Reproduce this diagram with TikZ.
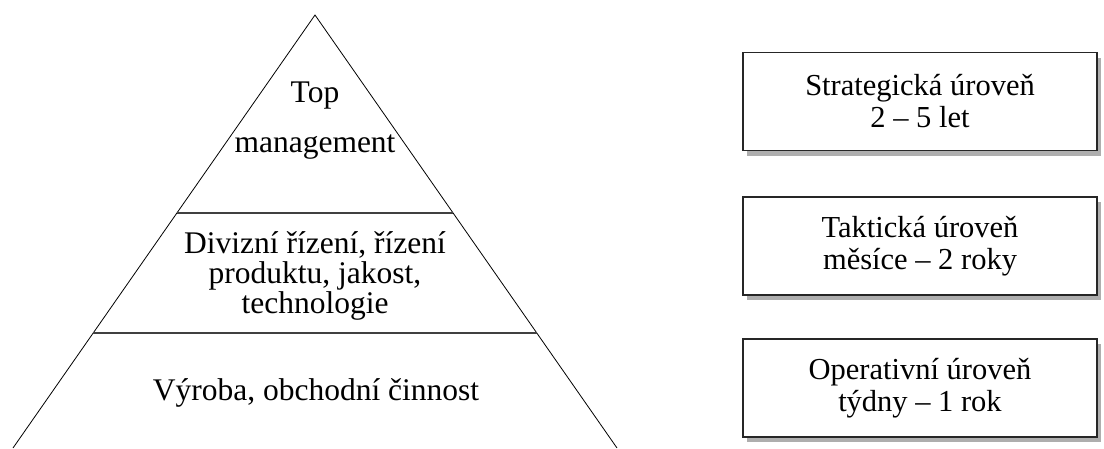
\documentclass[tikz,border=0pt]{standalone}
\usepackage{fontspec}
\setmainfont{Liberation Serif}
\usetikzlibrary{shadows}
\tikzset{
  lvl/.style={draw=black!85, line width=1.2pt, fill=white, minimum width=354pt, minimum height=98pt,
    align=center, font=\fontsize{30.5}{32}\selectfont,
    drop shadow={shadow xshift=4pt, shadow yshift=-5pt, opacity=0.45, fill=black!70}},
  pyr/.style={draw=black, line width=0.8pt},
  sep/.style={draw=black!75, line width=1.4pt},
  ptext/.style={align=center, font=\fontsize{31.5}{30}\selectfont, inner sep=0pt}
}
\begin{document}
\begin{tikzpicture}[x=1pt,y=-1pt]
\useasboundingbox (0,0) rectangle (1104,448);
\coordinate (apex) at (315,15);
\coordinate (bl) at (13,448);
\coordinate (br) at (617,448);
\coordinate (l1a) at (177,213);
\coordinate (l1b) at (453,213);
\coordinate (l2a) at (93,333);
\coordinate (l2b) at (537,333);
\draw[pyr] (bl) -- (apex) -- (br);
\draw[sep] (l1a) -- (l1b);
\draw[sep] (l2a) -- (l2b);
\node[ptext] (top) at (315,121) {Top\\[20pt]management};
\node[ptext] (mid) at (315,276) {Divizní řízení, řízení\\produktu, jakost,\\technologie};
\node[ptext] (bot) at (316,393) {Výroba, obchodní činnost};
\node[lvl] (s) at (920,101.5) {Strategická úroveň\\2 – 5 let};
\node[lvl] (t) at (920,246) {Taktická úroveň\\měsíce – 2 roky};
\node[lvl] (o) at (920,388) {Operativní úroveň\\týdny – 1 rok};
\end{tikzpicture}
\end{document}
